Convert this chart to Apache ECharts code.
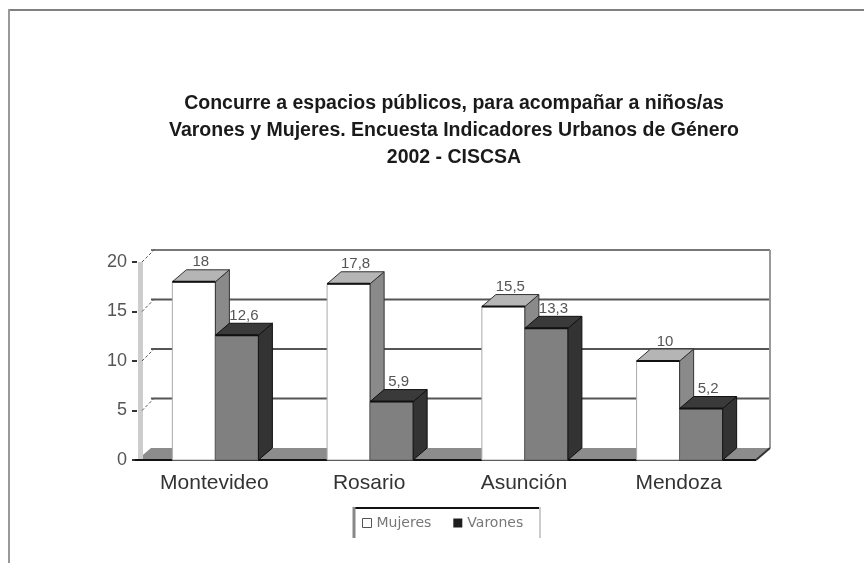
<!DOCTYPE html>
<html>
<head>
<meta charset="utf-8">
<script src="https://cdn.jsdelivr.net/npm/echarts@6/dist/echarts.min.js"></script>
<style>html,body{margin:0;padding:0;background:#fff}#main{width:864px;height:563px}</style>
</head>
<body>
<div id="main"></div>
<script>
var ciudades = ['Montevideo', 'Rosario', 'Asunción', 'Mendoza'];
var mujeres = [18, 17.8, 15.5, 10];//Mujeres
var varones = [12.6, 5.9, 13.3, 5.2];//Varones
var ticksY = [0, 5, 10, 15, 20];

var DX = 14, DY = 12;//profundidad del efecto 3d

function fmt(v) {
    return String(v).replace('.', ',');
}

var datosM = [], datosV = [];
for (var i = 0; i < ciudades.length; i++) {
    datosM.push([i, mujeres[i]]);
    datosV.push([i, varones[i]]);
}

function barra3d(lado, frente, cara, tope, borde) {
    return function (params, api) {
        var base = api.coord([api.value(0), 0]);
        var alto = api.coord([api.value(0), api.value(1)]);
        var w = api.size([1, 0])[0] * 0.278;
        var x1 = lado == 0 ? base[0] - w + 1 : base[0] + 1;
        var x2 = x1 + w;
        var y0 = base[1], y1 = alto[1];
        return {
            type: 'group',
            children: [
                {type: 'rect', shape: {x: x1, y: y1, width: w, height: y0 - y1},
                    style: {fill: frente, stroke: lado == 0 ? '#aaa' : '#666', lineWidth: 1}},
                {type: 'polygon', shape: {points: [[x2, y1], [x2 + DX, y1 - DY], [x2 + DX, y0 - DY], [x2, y0]]},
                    style: {fill: cara, stroke: borde, lineWidth: 1}},
                {type: 'polygon', shape: {points: [[x1, y1], [x2, y1], [x2 + DX, y1 - DY], [x1 + DX, y1 - DY]]},
                    style: {fill: tope, stroke: borde, lineWidth: 1}},
                {type: 'line', shape: {x1: x1, y1: y1, x2: x2, y2: y1}, style: {stroke: '#111', lineWidth: 2}},
                {type: 'text', x: (x1 + x2 + DX) / 2, y: y1 - DY,
                    style: {text: fmt(api.value(1)), fill: '#555', font: '15px "Liberation Sans"', align: 'center', verticalAlign: 'bottom'}}
            ]
        };
    };
}

function pared(params, api) {
    var cs = params.coordSys;
    var x = cs.x, w = cs.width, y0 = cs.y + cs.height;
    var hijos = [];
    //piso
    hijos.push({type: 'polygon', shape: {points: [[x, y0], [x + w, y0], [x + w + DX, y0 - DY], [x + DX, y0 - DY]]},
        style: {fill: '#8c8c8c'}});
    //pared izquierda
    hijos.push({type: 'rect', shape: {x: x + 1, y: cs.y, width: 5, height: cs.height}, style: {fill: '#cdcdcd'}});
    for (var k = 0; k < ticksY.length; k++) {
        var y = api.coord([0, ticksY[k]])[1];
        if (ticksY[k] > 0) {
            hijos.push({type: 'line', shape: {x1: x + DX, y1: y - DY, x2: x + w + DX, y2: y - DY},
                style: {stroke: ticksY[k] == 20 ? '#777' : '#555', lineWidth: 2}});
            hijos.push({type: 'line', shape: {x1: x + 5, y1: y, x2: x + DX + 4, y2: y - DY - 1},
                style: {stroke: '#555', lineWidth: 1, lineDash: [3, 2]}});
        }
    }
    //borde derecho
    hijos.push({type: 'line', shape: {x1: x + w + DX, y1: cs.y - DY, x2: x + w + DX, y2: y0 - DY},
        style: {stroke: '#9a9a9a', lineWidth: 2}});
    //linea frontal
    hijos.push({type: 'line', shape: {x1: x - 2, y1: y0, x2: x + w, y2: y0}, style: {stroke: '#111', lineWidth: 2}});
    hijos.push({type: 'line', shape: {x1: x + w, y1: y0, x2: x + w + DX, y2: y0 - DY}, style: {stroke: '#333', lineWidth: 2}});
    return {type: 'group', children: hijos};
}

var chart = echarts.init(document.getElementById('main'));
var option = {
    backgroundColor: '#fff',
    animation: false,
    title: {
        text: 'Concurre a espacios públicos, para acompañar a niños/as\nVarones y Mujeres. Encuesta Indicadores Urbanos de Género\n2002 - CISCSA',
        left: 454,
        top: 90,
        padding: 0,
        textAlign: 'center',
        textStyle: {
            fontFamily: 'Liberation Sans',
            fontSize: 19.5,
            fontWeight: 'bold',
            color: '#1a1a1a',
            lineHeight: 27
        }
    },
    legend: {
        data: [
            {name: 'Mujeres', itemStyle: {color: '#fff', borderColor: '#555', borderWidth: 1}},
            {name: 'Varones', itemStyle: {color: '#1e1e1e'}}
        ],
        left: 362,
        top: 516,
        padding: 0,
        icon: 'rect',
        itemWidth: 9,
        itemHeight: 9,
        itemGap: 22,
        textStyle: {fontFamily: 'DejaVu Sans', fontSize: 14, color: '#777'}
    },
    grid: {left: 137, right: 108, top: 262, bottom: 103},
    xAxis: {
        type: 'category',
        data: ciudades,
        axisLine: {show: false},
        axisTick: {show: false},
        axisLabel: {fontFamily: 'Liberation Sans', fontSize: 21, color: '#333', margin: 13}
    },
    yAxis: {
        type: 'value',
        min: 0,
        max: 20,
        interval: 5,
        axisLine: {show: false},
        axisTick: {show: true, length: 5, lineStyle: {color: '#333', width: 2}},
        splitLine: {show: false},
        axisLabel: {fontFamily: 'Liberation Sans', fontSize: 18, color: '#555', margin: 10}
    },
    graphic: [
        {type: 'line', shape: {x1: 8, y1: 10, x2: 864, y2: 10}, style: {stroke: '#808080', lineWidth: 2}},
        {type: 'line', shape: {x1: 9, y1: 9, x2: 9, y2: 563}, style: {stroke: '#999', lineWidth: 2}},
        {type: 'line', shape: {x1: 353, y1: 508, x2: 541, y2: 508}, style: {stroke: '#111', lineWidth: 2}},
        {type: 'line', shape: {x1: 354, y1: 507, x2: 354, y2: 538}, style: {stroke: '#888', lineWidth: 3}},
        {type: 'line', shape: {x1: 540, y1: 507, x2: 540, y2: 538}, style: {stroke: '#ccc', lineWidth: 2}}
    ],
    series: [
        {name: 'fondo', type: 'custom', renderItem: pared, data: [[0, 0]], z: 1, clip: false, silent: true, tooltip: {show: false}},
        {name: 'Mujeres', type: 'custom', renderItem: barra3d(0, '#ffffff', '#8a8a8a', '#b5b5b5', '#333'),
            data: datosM, encode: {x: 0, y: 1}, itemStyle: {color: '#fff'}, z: 2, clip: false},
        {name: 'Varones', type: 'custom', renderItem: barra3d(1, '#808080', '#333333', '#3a3a3a', '#111'),
            data: datosV, encode: {x: 0, y: 1}, itemStyle: {color: '#1e1e1e'}, z: 3, clip: false}
    ]
};
chart.setOption(option);
window.addEventListener('resize', function () {
    chart.resize();
});
</script>
</body>
</html>
